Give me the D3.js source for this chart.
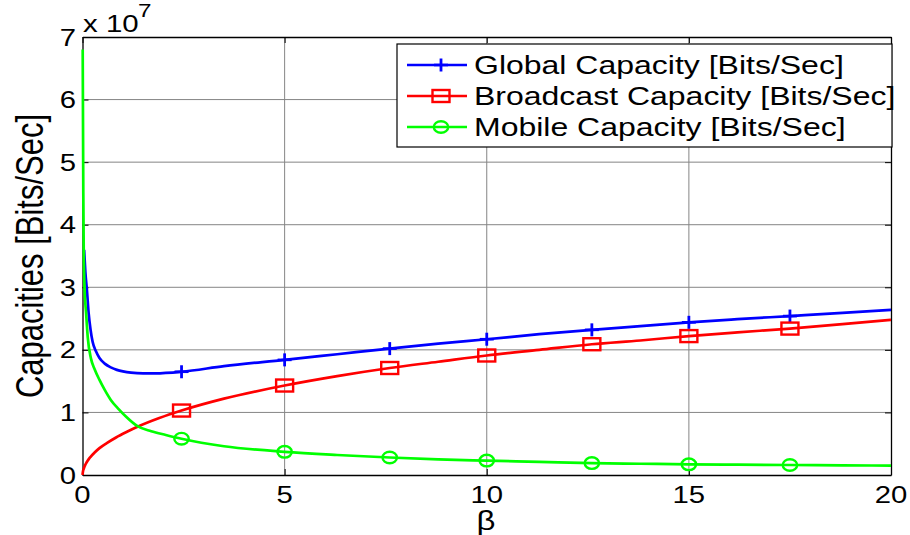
<!DOCTYPE html>
<html>
<head>
<meta charset="utf-8">
<script src="https://cdn.jsdelivr.net/npm/d3@7"></script>
<style>
  html, body { margin: 0; padding: 0; background: #fff; }
  svg { display: block; font-family: Arial, "Liberation Sans", Helvetica, sans-serif; }
</style>
</head>
<body>
<svg id="chart" width="910" height="535"></svg>
<script>
// ---------- data (values in units of 1e7 bits/sec) ----------
const xTicks = [0, 5, 10, 15, 20];
const yTicks = [0, 1, 2, 3, 4, 5, 6, 7];
const seriesNames = ["Global Capacity [Bits/Sec]", "Broadcast Capacity [Bits/Sec]", "Mobile Capacity [Bits/Sec]"];
const markerBeta = [2.45, 5, 7.6, 10, 12.6, 15, 17.5];

const globalBeta = [0.04, 0.07, 0.11, 0.15, 0.2, 0.25, 0.33, 0.42, 0.55, 0.7, 0.85, 1.0, 1.2, 1.5, 1.8, 2.45, 3.5, 5, 6.3, 7.6, 8.8, 10, 11.3, 12.6, 13.8, 15, 16.2, 17.5, 18.8, 20];
const globalCap  = [3.6, 3.25, 2.95, 2.6, 2.32, 2.13, 1.98, 1.87, 1.78, 1.72, 1.68, 1.655, 1.635, 1.625, 1.625, 1.65, 1.74, 1.84, 1.93, 2.02, 2.10, 2.17, 2.25, 2.32, 2.38, 2.44, 2.49, 2.54, 2.59, 2.64];

const broadBeta = [0, 0.01, 0.03, 0.06, 0.1, 0.15, 0.2, 0.3, 0.42, 0.6, 0.83, 1.1, 1.36, 1.9, 2.45, 3.5, 5, 6.3, 7.6, 8.8, 10, 11.3, 12.6, 13.8, 15, 16.2, 17.5, 18.8, 20];
const broadCap  = [0, 0.05, 0.10, 0.15, 0.20, 0.25, 0.29, 0.36, 0.43, 0.51, 0.60, 0.69, 0.77, 0.91, 1.03, 1.22, 1.43, 1.58, 1.71, 1.81, 1.91, 2.0, 2.09, 2.15, 2.22, 2.28, 2.34, 2.41, 2.48];

const mobileBeta = [0.005, 0.02, 0.03, 0.05, 0.09, 0.13, 0.21, 0.3, 0.42, 0.55, 0.7, 0.9, 1.08, 1.36, 1.7, 2.06, 2.45, 3.5, 5, 6.3, 7.6, 8.8, 10, 11.3, 12.6, 13.8, 15, 16.2, 17.5, 18.8, 20];
const mobileCap  = [6.8, 4.5, 3.6, 3.0, 2.58, 2.2, 1.86, 1.69, 1.52, 1.36, 1.2, 1.05, 0.93, 0.78, 0.70, 0.64, 0.58, 0.46, 0.37, 0.32, 0.28, 0.25, 0.23, 0.21, 0.19, 0.18, 0.17, 0.165, 0.16, 0.155, 0.15];

const colors = ["#0000ff", "#ff0000", "#00ff00"];
const markerTypes = ["plus", "square", "circle"];

// ---------- layout ----------
const svg = d3.select("#chart");
const L = 82.5, R = 891, T = 37, B = 475;
const SX = 1.22; // horizontal stretch of the reference text
const x = d3.scaleLinear().domain([0, 20]).range([L, R]);
const y = d3.scaleLinear().domain([0, 7]).range([B, T]);

// grid
const grid = svg.append("g");
grid.selectAll("line.gx").data(xTicks.slice(1, -1)).enter().append("line")
  .attr("x1", d => x(d)).attr("x2", d => x(d)).attr("y1", T).attr("y2", B)
  .attr("stroke", "#858585").attr("stroke-width", 1);
grid.selectAll("line.gy").data(yTicks.slice(1, -1)).enter().append("line")
  .attr("x1", L).attr("x2", R).attr("y1", d => y(d)).attr("y2", d => y(d))
  .attr("stroke", "#858585").attr("stroke-width", 1);

// axes (ticks inward)
const tl = 6;
svg.append("g").attr("transform", `translate(0,${B})`)
  .call(d3.axisBottom(x).tickValues(xTicks).tickSizeInner(-tl).tickSizeOuter(0).tickFormat(""));
svg.append("g").attr("transform", `translate(0,${T})`)
  .call(d3.axisTop(x).tickValues(xTicks).tickSizeInner(-tl).tickSizeOuter(0).tickFormat(""));
svg.append("g").attr("transform", `translate(${L},0)`)
  .call(d3.axisLeft(y).tickValues(yTicks).tickSizeInner(-tl).tickSizeOuter(0).tickFormat(""));
svg.append("g").attr("transform", `translate(${R},0)`)
  .call(d3.axisRight(y).tickValues(yTicks).tickSizeInner(-tl).tickSizeOuter(0).tickFormat(""));
svg.selectAll(".domain").attr("stroke", "#000").attr("stroke-width", 1.3);
svg.selectAll(".tick line").attr("stroke", "#000");

// tick labels
xTicks.forEach(v => {
  svg.append("g").attr("transform", `translate(${x(v)},503) scale(${SX},1)`)
    .append("text").attr("text-anchor", "middle").attr("font-size", 24).text(v);
});
yTicks.forEach(v => {
  svg.append("g").attr("transform", `translate(76,${y(v) + 8.5}) scale(${SX},1)`)
    .append("text").attr("text-anchor", "end").attr("font-size", 24).text(v);
});

// exponent label
const ex = svg.append("g").attr("transform", `translate(83,32) scale(1.28,1)`);
ex.append("text").attr("font-size", 23).text("x 10");
ex.append("text").attr("x", 43).attr("y", -15).attr("font-size", 19).text("7");

// axis titles
svg.append("g").attr("transform", `translate(486,530) scale(${SX},1)`)
  .append("text").attr("text-anchor", "middle").attr("font-size", 27).text("β");
svg.append("g").attr("transform", `translate(43,256) scale(1.25,1) rotate(-90)`)
  .append("text").attr("text-anchor", "middle").attr("font-size", 31).text("Capacities [Bits/Sec]");

// lines
const line = d3.line().x(d => x(d[0])).y(d => y(d[1])).curve(d3.curveMonotoneX);
const series = [
  { bx: globalBeta, vals: globalCap },
  { bx: broadBeta, vals: broadCap },
  { bx: mobileBeta, vals: mobileCap }
];
const plot = svg.append("g");
series.forEach((s, i) => {
  const pts = s.bx.map((b, j) => [b, s.vals[j]]);
  plot.append("path").datum(pts).attr("d", line)
    .attr("fill", "none").attr("stroke", colors[i]).attr("stroke-width", 2.7)
    .attr("stroke-linejoin", "round");
});

function drawMarker(g, type, cx, cy, color) {
  if (type === "plus") {
    g.append("line").attr("x1", cx - 7).attr("x2", cx + 7).attr("y1", cy).attr("y2", cy)
      .attr("stroke", color).attr("stroke-width", 2.6);
    g.append("line").attr("x1", cx).attr("x2", cx).attr("y1", cy - 6.5).attr("y2", cy + 6.5)
      .attr("stroke", color).attr("stroke-width", 2.8);
  } else if (type === "square") {
    g.append("rect").attr("x", cx - 8.5).attr("y", cy - 6).attr("width", 17).attr("height", 12)
      .attr("fill", "none").attr("stroke", color).attr("stroke-width", 2.4);
  } else {
    g.append("ellipse").attr("cx", cx).attr("cy", cy).attr("rx", 7.2).attr("ry", 5.8)
      .attr("fill", "none").attr("stroke", color).attr("stroke-width", 2.4);
  }
}

series.forEach((s, i) => {
  markerBeta.forEach(b => {
    const j = s.bx.indexOf(b);
    if (j >= 0) drawMarker(plot, markerTypes[i], x(b), y(s.vals[j]), colors[i]);
  });
});

// legend
const lg = svg.append("g");
lg.append("rect").attr("x", 397).attr("y", 44).attr("width", 495).attr("height", 103)
  .attr("fill", "#fff").attr("stroke", "#000").attr("stroke-width", 1.2);
const rowY = [65, 96, 127];
seriesNames.forEach((name, i) => {
  lg.append("line").attr("x1", 407).attr("x2", 467).attr("y1", rowY[i]).attr("y2", rowY[i])
    .attr("stroke", colors[i]).attr("stroke-width", 2.6);
  drawMarker(lg, markerTypes[i], 441, rowY[i], colors[i]);
  lg.append("g").attr("transform", `translate(474,${rowY[i] + 9}) scale(1.28,1)`)
    .append("text").attr("font-size", 25).text(name);
});
</script>
</body>
</html>
